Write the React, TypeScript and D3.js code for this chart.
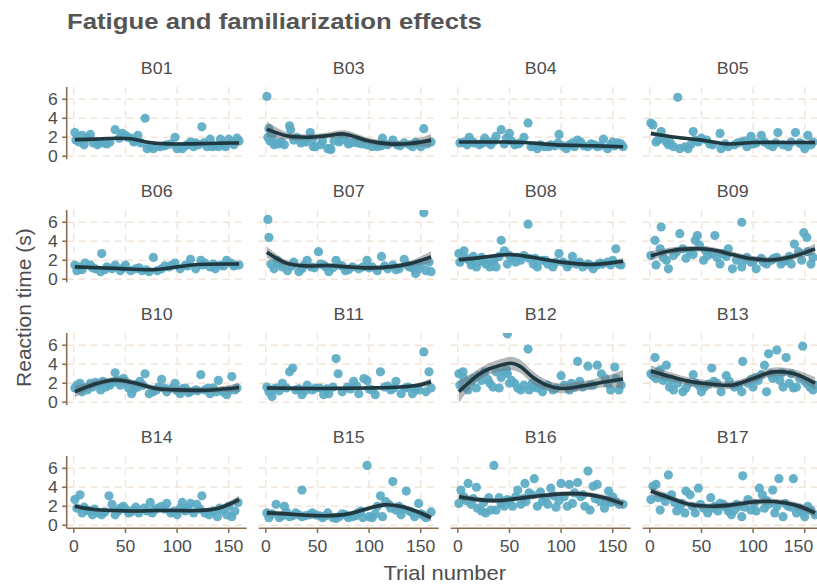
import React from "react";
import * as d3 from "d3";

type Pt = [number, number];
type Fit = [number, number, number];

const TITLE = "Fatigue and familiarization effects";
const X_LABEL = "Trial number";
const Y_LABEL = "Reaction time (s)";
const X_TICKS = [0, 50, 100, 150];
const Y_TICKS = [0, 2, 4, 6];
const PARTICIPANTS = ["B01", "B03", "B04", "B05", "B06", "B07", "B08", "B09", "B10", "B11", "B12", "B13", "B14", "B15", "B16", "B17"];

const B01: Pt[] = [[1,2.5],[2,1.7],[10,1.2],[8,2.2],[16,2.3],[13,1.9],[19,1.4],[23,1.2],[29,1.4],[35,1.5],[40,2.8],[47,2.4],[50,2.2],[55,1.9],[58,1.5],[62,2.2],[65,1.4],[69,4.0],[71,0.8],[77,0.8],[84,1.0],[90,1.2],[98,2.0],[100,0.8],[105,0.8],[110,1.2],[113,1.5],[118,1.4],[124,3.1],[126,1.4],[132,1.8],[134,1.0],[142,1.8],[145,1.2],[150,1.8],[155,1.2],[158,1.9],[5,1.5],[25,1.5],[32,1.3],[44,1.9],[52,2.0],[60,1.6],[74,1.0],[80,1.0],[88,1.1],[94,1.3],[102,1.0],[108,1.1],[116,1.0],[121,1.2],[129,1.0],[137,1.1],[140,1.0],[147,1.0],[153,1.5],[160,1.6]];
const B03: Pt[] = [[1,6.3],[3,2.9],[6,2.2],[10,1.4],[15,1.5],[18,1.2],[23,3.2],[24,2.8],[27,1.7],[34,1.4],[39,1.5],[43,2.5],[48,1.0],[53,1.2],[60,0.8],[63,0.7],[71,1.5],[77,1.7],[82,1.4],[89,1.4],[98,1.2],[103,1.0],[108,1.0],[113,1.9],[118,1.2],[123,1.7],[127,1.2],[134,1.4],[139,1.2],[145,1.5],[150,1.0],[153,2.9],[160,1.5],[2,2.0],[4,1.6],[8,1.2],[12,1.3],[30,2.0],[46,1.0],[62,0.8],[72,1.7],[80,1.3],[36,1.6],[45,1.8],[55,1.6],[66,1.6],[75,1.9],[86,1.5],[93,1.3],[112,1.1],[130,1.1],[142,1.0],[156,1.3]];
const B04: Pt[] = [[2,1.4],[6,1.5],[11,2.0],[16,1.4],[21,1.2],[26,1.9],[32,1.2],[37,2.1],[42,2.8],[47,1.9],[50,2.4],[55,1.2],[60,1.4],[64,2.0],[68,3.5],[71,1.0],[77,0.8],[84,1.0],[90,1.2],[97,1.4],[98,2.3],[105,0.8],[111,1.4],[116,1.7],[119,1.5],[126,1.0],[132,1.2],[135,1.0],[141,1.8],[145,0.8],[150,1.5],[155,1.4],[160,1.0],[9,1.2],[13,1.6],[24,1.4],[29,1.5],[35,1.6],[45,1.3],[52,1.6],[58,1.3],[74,1.1],[80,1.2],[88,1.0],[94,1.1],[101,1.1],[108,1.2],[113,1.0],[122,1.1],[129,1.3],[138,1.1],[148,1.2],[152,1.1],[158,1.3]];
const B05: Pt[] = [[1,3.5],[3,3.3],[6,1.5],[11,2.6],[13,1.9],[18,1.2],[23,1.0],[27,6.2],[29,0.8],[34,1.0],[37,0.8],[42,2.6],[44,1.7],[50,1.9],[55,1.7],[61,1.2],[68,2.4],[69,0.8],[76,1.0],[82,1.2],[89,1.5],[94,1.0],[98,2.1],[103,1.4],[108,2.2],[115,1.2],[119,1.0],[124,2.5],[129,1.2],[134,1.0],[141,2.5],[145,1.4],[150,0.8],[153,2.2],[158,1.5],[8,1.7],[16,1.5],[20,1.4],[40,1.3],[47,1.5],[58,1.3],[73,1.3],[85,1.4],[92,1.6],[100,1.3],[111,1.5],[122,1.4],[137,1.5],[147,1.3],[156,1.2]];
const B06: Pt[] = [[1,1.5],[3,0.9],[6,1.3],[11,1.7],[16,1.5],[21,1.1],[26,0.8],[27,2.7],[32,1.3],[37,1.1],[40,1.5],[45,0.9],[50,1.5],[55,0.9],[60,1.1],[66,0.9],[73,0.8],[77,2.3],[81,0.9],[85,1.1],[92,1.3],[98,1.7],[103,1.1],[108,1.5],[113,2.1],[118,1.1],[123,2.0],[127,1.7],[132,1.3],[137,1.1],[142,1.5],[148,2.0],[152,1.7],[156,1.5],[160,1.5],[8,1.0],[18,1.2],[30,1.0],[48,1.2],[63,1.2],[70,1.0],[88,1.4],[95,1.5],[110,1.4],[125,1.5],[135,1.6],[145,1.4],[155,1.4]];
const B07: Pt[] = [[2,6.3],[3,4.4],[5,1.6],[8,1.1],[11,2.0],[16,1.3],[21,0.9],[27,1.8],[32,0.8],[35,1.1],[40,2.0],[44,1.3],[51,2.9],[53,1.6],[58,1.3],[61,0.8],[68,2.0],[71,1.5],[77,0.9],[84,1.3],[90,1.1],[98,2.0],[103,1.3],[108,0.9],[112,2.4],[118,1.1],[123,1.5],[129,1.1],[134,2.1],[139,1.3],[145,0.6],[150,1.5],[153,7.0],[155,0.9],[158,1.8],[160,0.8],[13,1.6],[25,1.4],[37,1.5],[47,1.2],[56,1.5],[65,1.2],[74,1.4],[80,1.0],[94,1.3],[100,1.2],[115,1.4],[126,1.0],[137,1.5],[142,1.2],[148,1.1]];
const B08: Pt[] = [[1,2.7],[2,1.8],[6,3.0],[8,2.2],[13,1.5],[18,1.3],[23,2.3],[27,1.6],[31,1.3],[35,2.0],[37,1.3],[42,4.1],[45,3.0],[48,1.6],[52,2.2],[56,1.8],[61,2.0],[68,5.8],[69,2.2],[73,1.6],[77,1.3],[82,2.0],[87,1.6],[92,1.3],[98,2.7],[102,1.8],[106,1.3],[111,2.4],[115,1.6],[121,1.3],[126,1.6],[131,1.1],[135,1.5],[140,1.6],[145,1.8],[150,2.0],[153,3.2],[156,1.6],[158,1.5],[11,2.0],[15,2.4],[20,1.8],[25,2.0],[33,1.9],[40,2.4],[50,2.5],[58,2.3],[64,2.5],[75,2.2],[85,2.0],[95,1.8],[108,1.6],[118,1.8],[128,1.5],[138,1.7],[148,1.5]];
const B09: Pt[] = [[1,2.5],[5,4.1],[6,1.5],[10,3.2],[11,5.5],[13,2.3],[16,2.0],[18,1.1],[23,2.5],[29,4.8],[32,3.2],[35,2.2],[39,2.9],[44,4.1],[46,4.6],[48,3.6],[52,2.0],[56,2.5],[63,4.6],[65,2.3],[68,1.6],[71,2.7],[76,3.2],[80,1.1],[84,2.0],[89,1.3],[89,6.0],[94,2.3],[98,1.8],[103,1.1],[108,2.2],[113,1.6],[118,2.0],[123,2.3],[127,1.6],[132,2.0],[137,1.6],[140,3.7],[144,2.9],[147,2.0],[149,4.9],[152,4.4],[153,2.9],[156,1.6],[158,2.3],[26,2.9],[42,2.6],[54,3.0],[60,2.7],[74,2.4],[92,2.0],[100,1.9],[110,1.8],[120,2.2],[130,1.9],[135,2.4]];
const B10: Pt[] = [[1,1.5],[3,1.8],[6,2.0],[8,1.1],[13,1.3],[18,1.6],[21,2.1],[26,1.3],[31,1.6],[35,1.8],[40,3.1],[42,2.3],[45,1.8],[48,2.5],[53,1.5],[56,0.9],[60,1.8],[64,2.2],[69,3.0],[73,0.9],[77,1.1],[82,1.6],[85,2.4],[90,1.1],[95,1.5],[98,2.0],[103,0.9],[108,1.5],[113,1.1],[118,1.3],[123,2.9],[127,1.3],[132,0.9],[135,1.5],[140,2.3],[144,1.1],[148,0.8],[153,2.7],[156,1.3],[158,1.5],[10,1.5],[16,2.0],[24,1.9],[28,2.2],[33,2.0],[38,2.1],[50,2.2],[58,1.4],[62,1.6],[67,1.8],[80,1.3],[88,1.5],[100,1.2],[105,1.4],[111,1.0],[120,1.2],[130,1.5],[138,1.1],[150,1.2]];
const B11: Pt[] = [[1,1.6],[3,1.1],[6,0.6],[10,1.5],[16,2.0],[23,3.2],[26,3.6],[29,1.3],[35,0.8],[40,1.8],[45,1.3],[52,1.5],[56,0.8],[61,0.9],[68,4.6],[70,3.0],[74,1.1],[79,1.6],[85,2.2],[90,0.9],[95,2.5],[98,2.3],[103,1.3],[106,0.8],[111,3.2],[115,1.6],[121,1.3],[126,2.2],[131,0.9],[135,1.5],[142,0.9],[148,1.3],[153,5.3],[155,1.1],[158,3.2],[8,1.4],[13,1.2],[20,1.5],[32,1.4],[38,1.2],[48,1.5],[59,1.4],[65,1.6],[82,1.4],[88,1.7],[100,1.4],[118,1.7],[124,1.5],[138,1.6],[145,1.4],[160,1.5]];
const B12: Pt[] = [[1,3.0],[2,1.8],[5,3.2],[6,2.5],[10,1.3],[13,2.2],[18,1.5],[23,2.3],[26,3.2],[31,2.0],[34,1.6],[37,3.2],[40,1.5],[44,3.2],[47,3.4],[48,3.0],[48,7.2],[52,2.3],[55,2.0],[58,1.5],[61,1.3],[68,5.6],[69,1.3],[73,1.6],[77,1.5],[82,1.1],[87,1.8],[92,1.3],[100,2.8],[103,1.8],[108,1.3],[113,1.6],[116,4.3],[121,1.6],[126,3.8],[131,1.8],[135,3.9],[139,3.0],[143,2.5],[148,1.3],[152,3.7],[153,2.5],[156,1.3],[158,1.8],[8,1.5],[15,2.5],[20,2.8],[29,2.4],[42,2.6],[50,2.0],[64,1.8],[72,2.0],[80,1.8],[95,1.5],[110,2.0],[118,2.2],[128,1.8],[145,2.0]];
const B13: Pt[] = [[1,3.0],[5,4.7],[6,2.5],[10,3.4],[13,2.3],[16,3.9],[19,1.6],[23,1.3],[27,2.0],[32,1.1],[35,1.5],[42,2.9],[45,2.0],[50,1.1],[53,1.6],[60,3.6],[65,2.0],[69,1.1],[74,2.8],[77,2.2],[82,1.6],[89,1.1],[90,4.3],[95,2.0],[100,1.6],[105,2.3],[108,2.9],[111,3.9],[113,1.1],[115,5.1],[119,2.5],[123,5.5],[126,2.3],[129,1.6],[132,4.7],[135,2.0],[139,1.5],[142,1.6],[148,5.9],[150,2.2],[155,1.6],[158,1.3],[3,2.8],[8,3.2],[15,2.6],[21,2.4],[38,2.0],[48,1.7],[57,1.9],[62,2.2],[86,1.8],[98,2.4],[102,2.6],[117,3.0],[121,2.8],[128,3.1],[137,3.0],[145,2.5],[152,2.0],[160,1.8]];
const B14: Pt[] = [[1,2.7],[3,1.8],[6,3.2],[8,1.3],[13,1.6],[18,1.1],[23,1.3],[27,1.1],[34,3.1],[37,2.2],[40,1.1],[45,1.8],[48,2.0],[53,1.3],[58,1.6],[63,1.3],[68,1.8],[74,2.4],[76,1.3],[81,1.8],[85,2.0],[90,2.3],[94,1.3],[100,1.1],[105,2.4],[110,1.8],[113,2.3],[116,1.3],[119,2.2],[124,3.1],[127,1.3],[131,1.1],[135,1.5],[139,0.9],[144,1.6],[148,1.1],[153,0.9],[156,1.5],[159,2.4],[10,1.9],[15,1.5],[20,1.7],[30,1.4],[43,1.5],[50,1.7],[55,1.4],[60,1.9],[71,1.5],[78,1.6],[88,1.7],[97,1.5],[103,1.8],[108,1.5],[122,1.7],[141,1.8],[150,2.0]];
const B15: Pt[] = [[1,1.3],[3,0.8],[10,2.2],[13,0.8],[18,2.0],[23,0.9],[29,1.3],[35,3.7],[35,0.9],[42,1.1],[48,1.1],[55,0.8],[60,1.3],[65,0.8],[71,0.9],[77,1.1],[84,0.9],[89,1.3],[94,0.8],[98,6.3],[100,0.9],[103,0.8],[108,2.0],[111,3.1],[113,0.9],[116,2.5],[119,2.2],[123,4.6],[126,1.6],[131,1.1],[136,3.6],[139,1.5],[144,0.9],[148,2.3],[152,1.1],[155,0.8],[160,1.4],[6,1.2],[16,1.0],[20,1.4],[26,1.0],[32,1.1],[38,1.0],[45,1.3],[52,1.0],[58,1.0],[68,0.7],[74,1.2],[80,0.8],[87,1.0],[92,1.5],[106,1.2],[121,1.8],[129,2.0],[133,1.7],[141,1.4],[150,1.2]];
const B16: Pt[] = [[1,2.3],[3,3.7],[6,3.0],[10,4.4],[13,2.2],[18,4.0],[19,1.8],[23,1.5],[27,1.3],[32,1.6],[35,6.3],[37,1.6],[40,2.9],[45,2.0],[48,2.7],[53,2.0],[58,3.7],[61,2.2],[65,4.4],[66,2.5],[69,3.4],[74,4.9],[77,2.0],[82,2.5],[87,2.2],[90,3.9],[95,1.9],[100,4.4],[103,3.0],[106,2.0],[108,4.3],[111,2.3],[116,4.5],[119,3.0],[123,2.0],[126,5.7],[128,1.6],[131,4.1],[135,4.3],[138,2.5],[142,1.8],[146,3.6],[150,3.0],[153,2.5],[156,2.2],[160,2.2],[8,2.6],[15,2.8],[25,2.4],[30,2.9],[42,2.3],[50,2.6],[56,3.0],[63,2.8],[72,3.2],[80,3.5],[85,2.8],[93,3.1],[98,2.6],[113,3.4],[121,3.2],[133,2.8],[144,2.6],[148,2.4]];
const B17: Pt[] = [[1,2.7],[3,4.1],[6,4.3],[10,1.6],[13,3.0],[18,5.3],[21,3.2],[26,1.5],[29,2.0],[34,1.3],[35,3.6],[39,3.2],[44,1.3],[47,3.9],[52,1.8],[56,1.3],[59,2.9],[63,2.0],[66,1.5],[71,2.2],[76,1.5],[79,1.1],[84,2.2],[89,0.9],[90,5.2],[95,2.7],[98,1.6],[103,1.5],[106,3.9],[109,3.2],[111,1.8],[115,2.2],[119,3.7],[121,1.3],[125,4.9],[129,0.9],[134,2.0],[139,4.9],[142,1.3],[145,1.8],[150,0.9],[153,2.0],[156,1.6],[160,1.1],[8,2.9],[15,2.5],[24,2.4],[31,2.3],[41,2.0],[49,2.2],[61,1.8],[68,2.3],[74,1.9],[82,1.6],[87,2.0],[92,1.9],[101,2.3],[113,2.6],[123,2.0],[131,2.3],[137,1.9],[148,1.4]];

// smooth fit: [trial, fit, standard-error half width]
const F01: Fit[] = [[1,1.75,.15],[20,1.8,.12],[40,1.9,.12],[55,1.85,.12],[70,1.5,.12],[90,1.3,.12],[110,1.3,.12],[130,1.35,.12],[145,1.38,.12],[160,1.4,.18]];
const F03: Fit[] = [[1,2.85,.8],[20,2.15,.38],[40,2.0,.32],[58,2.15,.32],[76,2.35,.38],[100,1.6,.32],[120,1.3,.32],[140,1.35,.32],[160,1.7,.65]];
const F04: Fit[] = [[1,1.5,.12],[40,1.5,.1],[65,1.45,.1],[95,1.2,.1],[130,1.1,.1],[160,1.0,.15]];
const F05: Fit[] = [[1,2.4,.25],[25,2.0,.15],[50,1.7,.15],[75,1.3,.15],[100,1.45,.15],[130,1.45,.15],[160,1.45,.2]];
const F06: Fit[] = [[1,1.3,.15],[40,1.15,.12],[75,1.0,.12],[100,1.3,.12],[120,1.55,.12],[160,1.6,.18]];
const F07: Fit[] = [[1,2.85,.6],[20,1.7,.3],[40,1.4,.25],[60,1.45,.25],[80,1.3,.25],[100,1.2,.25],[120,1.3,.25],[140,1.65,.3],[160,2.35,.6]];
const F08: Fit[] = [[1,2.05,.3],[20,2.25,.2],[50,2.6,.2],[70,2.35,.2],[100,1.8,.2],[130,1.55,.2],[150,1.75,.2],[160,1.9,.35]];
const F09: Fit[] = [[1,2.45,.5],[20,3.0,.35],[40,3.2,.3],[60,3.1,.3],[80,2.6,.3],[100,2.15,.3],[120,2.05,.3],[140,2.45,.35],[160,3.2,.55]];
const F10: Fit[] = [[1,1.1,.6],[20,1.9,.35],[40,2.35,.3],[60,2.0,.3],[80,1.45,.3],[100,1.3,.3],[120,1.25,.3],[140,1.35,.3],[160,1.55,.45]];
const F11: Fit[] = [[1,1.5,.25],[50,1.45,.15],[100,1.5,.15],[130,1.6,.15],[150,1.85,.25],[160,2.15,.4]];
const F12: Fit[] = [[1,1.1,1.2],[10,2.0,.8],[20,2.9,.6],[30,3.5,.6],[40,3.85,.65],[52,4.1,.7],[60,3.8,.7],[73,2.6,.65],[86,1.8,.55],[100,1.45,.5],[120,1.7,.5],[140,2.1,.55],[160,2.45,.95]];
const F13: Fit[] = [[1,3.3,.6],[20,2.7,.45],[40,2.15,.4],[60,1.9,.4],[80,1.8,.4],[100,2.5,.4],[120,3.2,.45],[140,3.0,.45],[160,2.0,.65]];
const F14: Fit[] = [[1,2.0,.25],[20,1.65,.2],[40,1.55,.18],[60,1.5,.18],[80,1.55,.18],[100,1.55,.18],[120,1.55,.2],[140,1.8,.22],[160,2.7,.4]];
const F15: Fit[] = [[1,1.3,.3],[20,1.2,.22],[40,1.05,.2],[60,1.0,.2],[80,1.2,.2],[100,1.8,.22],[115,2.15,.25],[130,2.0,.25],[145,1.5,.25],[160,0.8,.4]];
const F16: Fit[] = [[1,3.0,.35],[20,2.7,.25],[40,2.6,.25],[60,2.85,.25],[80,3.1,.25],[100,3.3,.25],[120,3.3,.25],[140,2.95,.28],[160,2.25,.45]];
const F17: Fit[] = [[1,3.6,.45],[20,2.85,.3],[40,2.15,.3],[60,2.0,.3],[80,2.15,.3],[100,2.45,.3],[120,2.5,.3],[140,2.15,.3],[160,1.3,.45]];

const POINTS = [B01, B03, B04, B05, B06, B07, B08, B09, B10, B11, B12, B13, B14, B15, B16, B17];
const FITS = [F01, F03, F04, F05, F06, F07, F08, F09, F10, F11, F12, F13, F14, F15, F16, F17];

const W = 817, H = 587;
const PANEL_W = 180, PANEL_H = 72.3;
const COL0 = 66.7, COL_STEP = 192;
const ROW0 = 87, ROW_STEP = 123;
const FONT = "'Liberation Sans', Arial, Helvetica, sans-serif";
const TEXT = "#4d4d4d";
const AXIS = "#8c6d4f";
const GRID = "#f1e4d8";
const POINT = "#5aaac4";
const LINE = "#1f3942";
const SX = 1.1;

function T(props: { x: number; y: number; sx?: number; size: number; anchor?: string; weight?: string; fill?: string; dy?: string; children: React.ReactNode }) {
  const { x, y, sx = SX, size, anchor = "middle", weight = "normal", fill = TEXT, dy, children } = props;
  return (
    <text transform={`translate(${x},${y}) scale(${sx},1)`} fontSize={size} textAnchor={anchor} fontWeight={weight} fill={fill} dy={dy}>
      {children}
    </text>
  );
}

export default function App() {
  const x = d3.scaleLinear().domain([-6.9, 167.4]).range([0, PANEL_W]);
  const y = d3.scaleLinear().domain([-0.32, 7.29]).range([PANEL_H, 0]);
  const line = d3.line<Fit>().x(d => x(d[0])).y(d => y(d[1])).curve(d3.curveCatmullRom.alpha(0.5));
  const area = d3.area<Fit>().x(d => x(d[0])).y0(d => y(d[1] - d[2])).y1(d => y(d[1] + d[2])).curve(d3.curveCatmullRom.alpha(0.5));

  return (
    <svg width={W} height={H} style={{ position: "absolute", left: 0, top: 0, display: "block" }} fontFamily={FONT}>
      <rect width={W} height={H} fill="#ffffff" />
      <T x={67} y={28.5} sx={1.12} size={23} anchor="start" weight="bold" fill="#555555">{TITLE}</T>
      <defs>
        <clipPath id="panelClip"><rect x={0} y={0} width={PANEL_W} height={PANEL_H} /></clipPath>
      </defs>
      {PARTICIPANTS.map((name, i) => {
        const col = i % 4, row = Math.floor(i / 4);
        const left = COL0 + col * COL_STEP, top = ROW0 + row * ROW_STEP;
        const pts = POINTS[i], fit = FITS[i];
        return (
          <g key={name} transform={`translate(${left},${top})`}>
            <T x={PANEL_W / 2} y={-13} sx={1.08} size={16.5}>{name}</T>
            {X_TICKS.map(t => (
              <line key={"gx" + t} x1={x(t)} x2={x(t)} y1={0} y2={PANEL_H} stroke={GRID} strokeWidth={1.3} strokeDasharray="7,5" />
            ))}
            {Y_TICKS.map(t => (
              <line key={"gy" + t} x1={0} x2={PANEL_W} y1={y(t)} y2={y(t)} stroke={GRID} strokeWidth={1.3} strokeDasharray="7,5" />
            ))}
            <g clipPath="url(#panelClip)">
              {pts.map((p, k) => (
                <circle key={k} cx={x(p[0])} cy={y(p[1])} r={4.6} fill={POINT} fillOpacity={0.92} />
              ))}
              <path d={area(fit) || ""} fill="#6e7477" fillOpacity={0.5} />
              <path d={line(fit) || ""} fill="none" stroke={LINE} strokeWidth={3.6} strokeLinecap="butt" />
            </g>
            {col === 0 && (
              <g>
                <line x1={0} x2={0} y1={0} y2={PANEL_H} stroke={AXIS} strokeWidth={1.6} />
                {Y_TICKS.map(t => (
                  <g key={"yt" + t}>
                    <line x1={-4.5} x2={0} y1={y(t)} y2={y(t)} stroke={AXIS} strokeWidth={1.6} />
                    <T x={-9} y={y(t)} size={16} anchor="end" dy="0.36em">{t}</T>
                  </g>
                ))}
              </g>
            )}
            {row === 3 && (
              <g>
                <line x1={0} x2={PANEL_W} y1={PANEL_H} y2={PANEL_H} stroke={AXIS} strokeWidth={1.6} />
                {X_TICKS.map(t => {
                  // keep the last label inside the picture's right edge
                  const lx = Math.min(x(t), W - 3 - left - 15.5);
                  return (
                    <g key={"xt" + t}>
                      <line x1={x(t)} x2={x(t)} y1={PANEL_H} y2={PANEL_H + 4.5} stroke={AXIS} strokeWidth={1.6} />
                      <T x={lx} y={PANEL_H + 23.5} size={16}>{t}</T>
                    </g>
                  );
                })}
              </g>
            )}
          </g>
        );
      })}
      <T x={444.7} y={580} size={20}>{X_LABEL}</T>
      <text transform={`translate(31,307.6) rotate(-90)`} textAnchor="middle" fontSize={21} fill={TEXT}>{Y_LABEL}</text>
    </svg>
  );
}
